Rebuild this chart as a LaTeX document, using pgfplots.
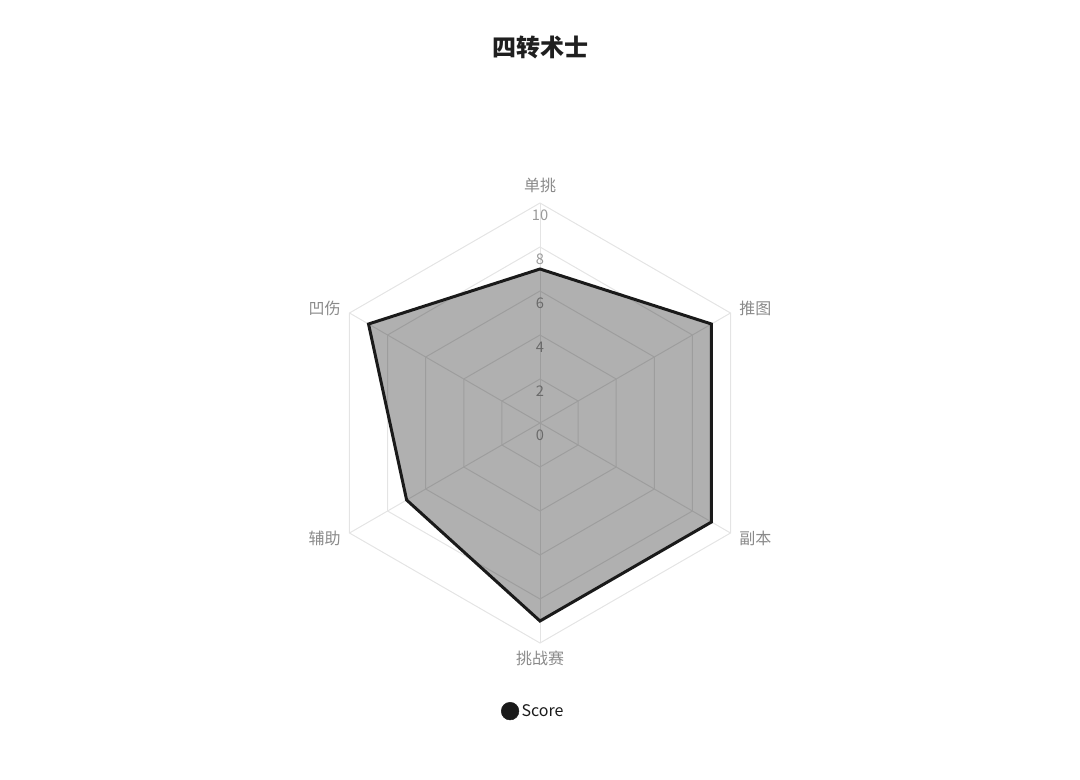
\documentclass[border=0pt]{standalone}
\usepackage{fontspec}
\setmainfont{Noto Sans CJK SC}
\usepackage{pgfplots}
\pgfplotsset{compat=1.18}
\usepgfplotslibrary{polar}
\definecolor{gridc}{HTML}{E4E4E4}
\definecolor{tickc}{HTML}{9A9A9A}
\definecolor{labc}{HTML}{8A8A8A}
\definecolor{linec}{HTML}{1A1A1A}
\definecolor{titlec}{HTML}{1F1F1F}
\begin{document}
\begin{tikzpicture}
\path[use as bounding box] (0,0) rectangle (810pt,584.25pt);
\node[font=\fontsize{18}{20}\selectfont\bfseries, text=titlec] at (405pt,549pt) {四转术士};
\begin{polaraxis}[
  at={(405pt,267pt)}, anchor=center,
  scale only axis, width=330pt, height=330pt,
  ymin=0, ymax=10,
  hide axis, clip=false,
  legend style={at={(axis cs:268.75,13.1)}, anchor=center, draw=none, fill=none,
    font=\fontsize{12}{14}\selectfont, text=linec},
  legend cell align=left,
]
% grid rings
\addplot[gridc, line width=0.75pt, forget plot] coordinates {(90,2)(30,2)(330,2)(270,2)(210,2)(150,2)(90,2)};
\addplot[gridc, line width=0.75pt, forget plot] coordinates {(90,4)(30,4)(330,4)(270,4)(210,4)(150,4)(90,4)};
\addplot[gridc, line width=0.75pt, forget plot] coordinates {(90,6)(30,6)(330,6)(270,6)(210,6)(150,6)(90,6)};
\addplot[gridc, line width=0.75pt, forget plot] coordinates {(90,8)(30,8)(330,8)(270,8)(210,8)(150,8)(90,8)};
\addplot[gridc, line width=0.75pt, forget plot] coordinates {(90,10)(30,10)(330,10)(270,10)(210,10)(150,10)(90,10)};
% spokes
\addplot[gridc, line width=0.75pt, forget plot] coordinates {(90,0)(90,10)};
\addplot[gridc, line width=0.75pt, forget plot] coordinates {(30,0)(30,10)};
\addplot[gridc, line width=0.75pt, forget plot] coordinates {(330,0)(330,10)};
\addplot[gridc, line width=0.75pt, forget plot] coordinates {(270,0)(270,10)};
\addplot[gridc, line width=0.75pt, forget plot] coordinates {(210,0)(210,10)};
\addplot[gridc, line width=0.75pt, forget plot] coordinates {(150,0)(150,10)};
% tick labels
\node[text=tickc, font=\fontsize{11}{12}\selectfont] at (axis cs:270,0.545) {0};
\node[text=tickc, font=\fontsize{11}{12}\selectfont] at (axis cs:90,1.455) {2};
\node[text=tickc, font=\fontsize{11}{12}\selectfont] at (axis cs:90,3.455) {4};
\node[text=tickc, font=\fontsize{11}{12}\selectfont] at (axis cs:90,5.455) {6};
\node[text=tickc, font=\fontsize{11}{12}\selectfont] at (axis cs:90,7.455) {8};
\node[text=tickc, font=\fontsize{11}{12}\selectfont] at (axis cs:90,9.455) {10};
% data: 单挑, 推图, 副本, 挑战赛, 辅助, 凹伤
\addplot[draw=linec, line width=2.25pt, fill=black, fill opacity=0.31, line join=miter, forget plot]
  coordinates {(90,7)(30,9)(330,9)(270,9)(210,7)(150,9)} -- cycle;
% category labels
\node[text=labc, font=\fontsize{12}{14}\selectfont] at (axis cs:90,10.82) {单挑};
\node[text=labc, font=\fontsize{12}{14}\selectfont, anchor=west, inner sep=0pt] at (axis cs:30,10.45) {推图};
\node[text=labc, font=\fontsize{12}{14}\selectfont, anchor=west, inner sep=0pt] at (axis cs:330,10.45) {副本};
\node[text=labc, font=\fontsize{12}{14}\selectfont] at (axis cs:270,10.7) {挑战赛};
\node[text=labc, font=\fontsize{12}{14}\selectfont, anchor=east, inner sep=0pt] at (axis cs:210,10.45) {辅助};
\node[text=labc, font=\fontsize{12}{14}\selectfont, anchor=east, inner sep=0pt] at (axis cs:150,10.45) {凹伤};
\addlegendimage{only marks, mark=*, mark size=6.6pt, color=linec, fill=linec}
\addlegendentry{Score}
\end{polaraxis}
\end{tikzpicture}
\end{document}
